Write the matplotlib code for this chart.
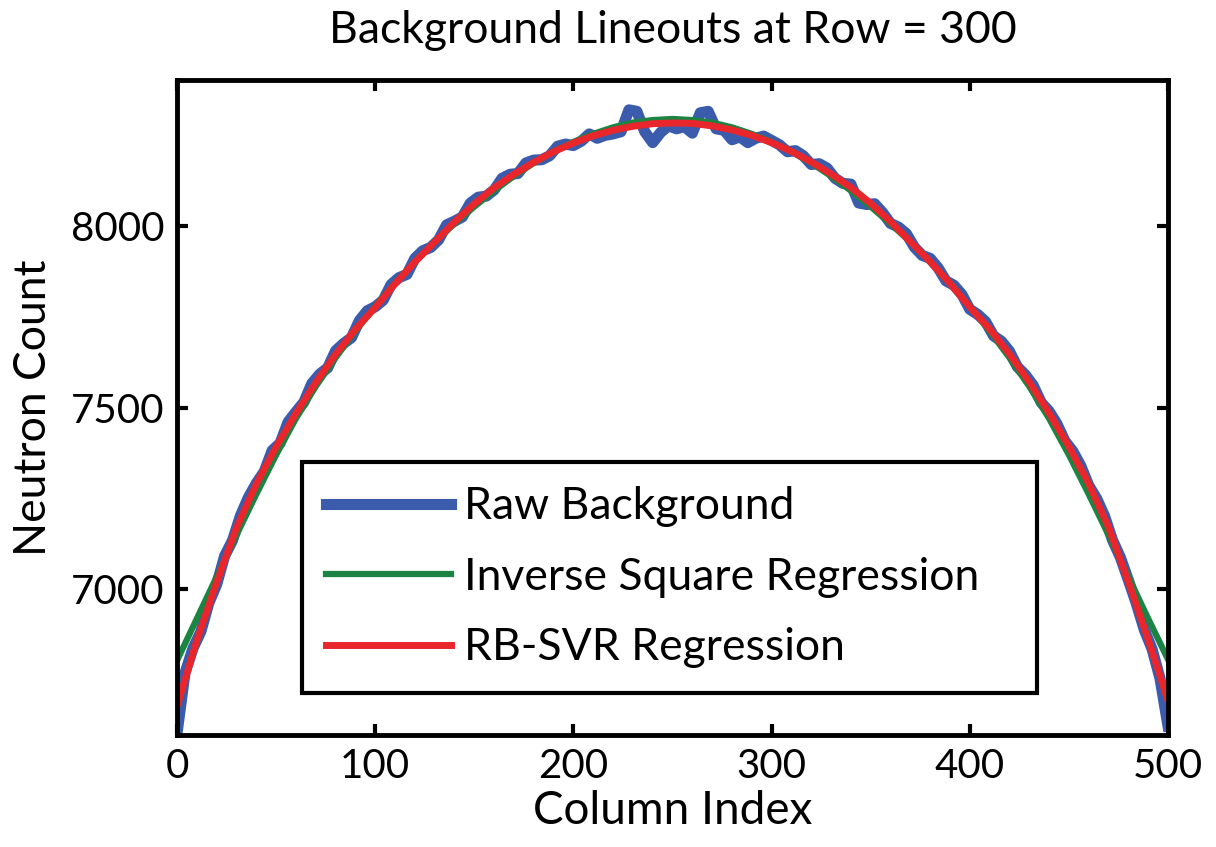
import numpy as np
import matplotlib
matplotlib.use('Agg')
import matplotlib.pyplot as plt

# column positions of the two fitted curves (every 10 columns)
fit_cols = list(range(0, 501, 10))

# RB-SVR regression curve
svr_fit = [6680, 6860, 7020, 7170, 7290, 7392, 7484, 7569, 7646, 7715,
           7775, 7840, 7900, 7955, 8010, 8060, 8104, 8141, 8174, 8203,
           8227, 8247, 8262, 8273, 8280, 8282, 8281, 8274, 8263, 8248,
           8228, 8204, 8175, 8142, 8105, 8061, 8011, 7956, 7901, 7841,
           7776, 7716, 7647, 7570, 7485, 7393, 7291, 7171, 7021, 6862,
           6695]

# inverse square regression curve
inv_sq_fit = [6805, 6920, 7035, 7150, 7262, 7370, 7470, 7558, 7637, 7710,
              7778, 7842, 7900, 7955, 8005, 8052, 8096, 8136, 8172, 8203,
              8230, 8252, 8270, 8283, 8290, 8293, 8290, 8283, 8270, 8252,
              8230, 8203, 8172, 8136, 8096, 8052, 8005, 7955, 7900, 7842,
              7778, 7710, 7637, 7558, 7470, 7370, 7262, 7150, 7035, 6920,
              6808]

# raw background lineout (every 4 columns)
raw_cols = list(range(0, 501, 4))
raw_bg = [6605, 6770, 6838, 6884, 6962, 7014, 7092, 7135, 7203, 7253,
          7292, 7324, 7382, 7402, 7460, 7488, 7515, 7566, 7592, 7609,
          7656, 7676, 7692, 7739, 7766, 7777, 7795, 7838, 7857, 7866,
          7910, 7931, 7940, 7961, 8002, 8012, 8024, 8062, 8078, 8081,
          8098, 8130, 8141, 8143, 8172, 8180, 8181, 8192, 8218, 8224,
          8220, 8232, 8252, 8240, 8248, 8252, 8258, 8318, 8314, 8258,
          8228, 8256, 8274, 8266, 8272, 8254, 8310, 8314, 8266, 8262,
          8236, 8244, 8228, 8240, 8246, 8234, 8222, 8203, 8206, 8192,
          8168, 8170, 8158, 8130, 8116, 8114, 8062, 8058, 8060, 8036,
          8006, 7996, 7978, 7941, 7918, 7910, 7884, 7848, 7836, 7811,
          7770, 7756, 7736, 7697, 7682, 7655, 7612, 7590, 7561, 7514,
          7490, 7455, 7408, 7380, 7340, 7286, 7250, 7202, 7136, 7088,
          7026, 6962, 6890, 6836, 6755, 6625]

x_ticks = [0, 100, 200, 300, 400, 500]
y_ticks = [7000, 7500, 8000]

plt.rcParams['font.family'] = ['Lato', 'DejaVu Sans']

fig = plt.figure(figsize=(12.16, 8.47), dpi=100)
ax = fig.add_axes([0.1456, 0.1322, 0.8149, 0.7733])

ax.plot(raw_cols, raw_bg, color='#3b5cad', linewidth=8, label='Raw Background')
ax.plot(fit_cols, inv_sq_fit, color='#1b8443', linewidth=4.5,
        label='Inverse Square Regression')
ax.plot(fit_cols, svr_fit, color='#e8262b', linewidth=5, label='RB-SVR Regression')

ax.set_xlim(0, 500)
ax.set_ylim(6600, 8400)
ax.set_xticks(x_ticks)
ax.set_yticks(y_ticks)
ax.tick_params(direction='in', length=8, width=3, labelsize=29,
               top=True, right=True, pad=9)
for sp in ax.spines.values():
    sp.set_linewidth(3.5)

ax.set_xlabel('Column Index', fontsize=33, labelpad=4)
ax.set_ylabel('Neutron Count', fontsize=32, labelpad=12)
ax.set_title('Background Lineouts at Row = 300', fontsize=32, pad=27)

leg = ax.legend(loc='upper left', bbox_to_anchor=(0.1261, 0.0, 0.7417, 0.4168),
                mode='expand', borderaxespad=0, fontsize=32,
                handlelength=2.8, handletextpad=0.3, labelspacing=0.66,
                borderpad=0.55, fancybox=False, framealpha=1, edgecolor='black')
leg.get_frame().set_linewidth(3)

fig.savefig('out.png', dpi=100)
